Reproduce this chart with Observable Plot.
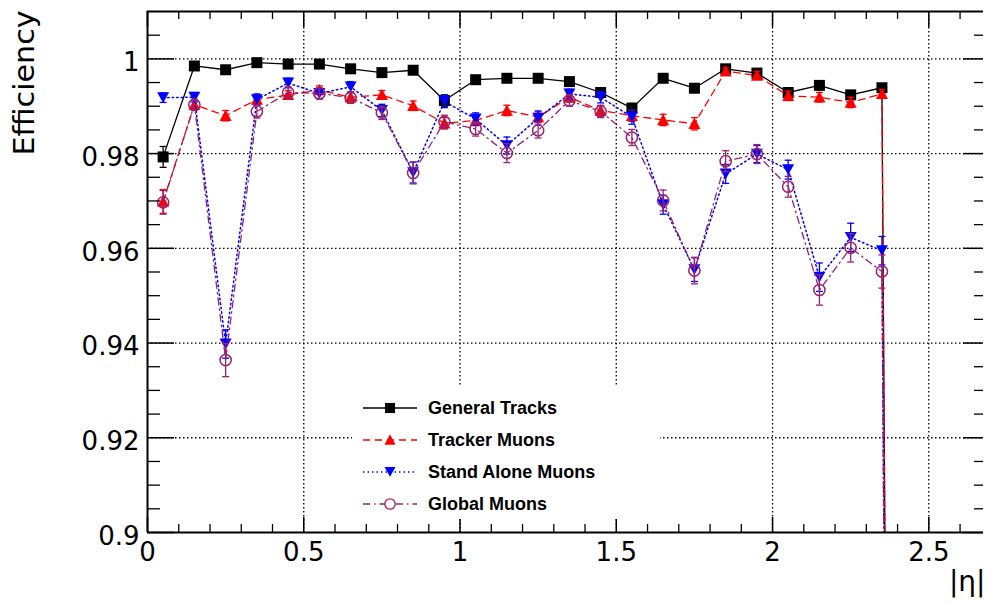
<!DOCTYPE html>
<html>
<head>
<meta charset="utf-8">
<script src="https://cdn.jsdelivr.net/npm/d3@7"></script>
<script src="https://cdn.jsdelivr.net/npm/@observablehq/plot@0.6"></script>
<style>
  html, body { margin: 0; padding: 0; background: #fff; overflow: hidden; }
  #wrap { position: relative; width: 986px; height: 603px; }
  #legend { position: absolute; left: 352px; top: 386px; width: 308px; height: 133px; background: #fff; }
  .row { position: absolute; left: 0; height: 20px; display: flex; align-items: center;
         font-family: "Liberation Sans", Arial, sans-serif; font-weight: bold; font-size: 18px; color: #000; }
  .row svg { position: absolute; left: 9px; top: 0; }
  .row span { position: absolute; left: 76px; top: 0; line-height: 20px; white-space: nowrap; }
</style>
</head>
<body>
<div id="wrap"></div>
<script>
// ---- data ----
const eta = [0.05, 0.15, 0.25, 0.35, 0.45, 0.55, 0.65, 0.75, 0.85, 0.95, 1.05, 1.15,
             1.25, 1.35, 1.45, 1.55, 1.65, 1.75, 1.85, 1.95, 2.05, 2.15, 2.25, 2.35, 2.45];

const generalTracks   = [0.9793, 0.9985, 0.9977, 0.9992, 0.9989, 0.9989, 0.9979, 0.9971, 0.9976, 0.9912, 0.9956, 0.9959,
                         0.9959, 0.9952, 0.9929, 0.9896, 0.9959, 0.9938, 0.9979, 0.9970, 0.9929, 0.9944, 0.9924, 0.9939, 0];
const generalTracksErr = [0.0022, 0.0005, 0.0005, 0.0004, 0.0004, 0.0004, 0.0005, 0.0005, 0.0005, 0.0012, 0.0006, 0.0006,
                         0.0006, 0.0006, 0.0008, 0.0010, 0.0006, 0.0008, 0.0005, 0.0006, 0.0008, 0.0008, 0.0009, 0.0008, 0];

const trackerMuons    = [0.9699, 0.9903, 0.9880, 0.9914, 0.9924, 0.9934, 0.9919, 0.9924, 0.9901, 0.9864, 0.9870, 0.9891,
                         0.9877, 0.9919, 0.9891, 0.9880, 0.9871, 0.9863, 0.9974, 0.9965, 0.9922, 0.9919, 0.9908, 0.9926, 0];
const trackerMuonsErr = [0.0025, 0.0010, 0.0011, 0.0010, 0.0009, 0.0009, 0.0009, 0.0009, 0.0010, 0.0012, 0.0011, 0.0011,
                         0.0011, 0.0010, 0.0010, 0.0012, 0.0012, 0.0013, 0.0007, 0.0008, 0.0010, 0.0010, 0.0011, 0.0009, 0];

const standAloneMuons = [0.9918, 0.9919, 0.9398, 0.9914, 0.9949, 0.9927, 0.9941, 0.9891, 0.9760, 0.9910, 0.9873, 0.9817,
                         0.9875, 0.9926, 0.9919, 0.9877, 0.9692, 0.9555, 0.9757, 0.9799, 0.9766, 0.9539, 0.9623, 0.9595, 0];
const standAloneMuonsErr = [0.0010, 0.0010, 0.0030, 0.0012, 0.0010, 0.0011, 0.0011, 0.0013, 0.0022, 0.0013, 0.0013, 0.0018,
                         0.0015, 0.0010, 0.0012, 0.0015, 0.0020, 0.0025, 0.0020, 0.0018, 0.0020, 0.0030, 0.0030, 0.0030, 0];

const globalMuons     = [0.9697, 0.9903, 0.9364, 0.9889, 0.9929, 0.9927, 0.9918, 0.9886, 0.9759, 0.9867, 0.9852, 0.9801,
                         0.9849, 0.9912, 0.9889, 0.9834, 0.9701, 0.9553, 0.9784, 0.9799, 0.9730, 0.9512, 0.9601, 0.9551, 0];
const globalMuonsErr  = [0.0025, 0.0012, 0.0035, 0.0014, 0.0012, 0.0012, 0.0012, 0.0014, 0.0023, 0.0014, 0.0015, 0.0020,
                         0.0016, 0.0012, 0.0013, 0.0017, 0.0022, 0.0028, 0.0022, 0.0020, 0.0022, 0.0032, 0.0030, 0.0035, 0];

const seriesNames = ["General Tracks", "Tracker Muons", "Stand Alone Muons", "Global Muons"];

const xMajorTicks = [0, 0.5, 1, 1.5, 2, 2.5];
const xTickLabels = ["0", "0.5", "1", "1.5", "2", "2.5"];
const yMajorTicks = [0.9, 0.92, 0.94, 0.96, 0.98, 1.0];
const yTickLabels = ["0.9", "0.92", "0.94", "0.96", "0.98", "1"];
const xDomain = [0, 2.675];
const yDomain = [0.9, 1.01];

// ---- derived ticks ----
const xMinorTicks = d3.range(1, 27).map(i => i / 10).filter(v => Math.abs(v * 2 - Math.round(v * 2)) > 1e-6);
const yMinorTicks = d3.range(181, 202).map(i => i / 200).filter(v => Math.abs(v * 50 - Math.round(v * 50)) > 1e-6);
const xGrid = xMajorTicks.slice(1);
const yGrid = yMajorTicks.slice(1);

// ---- symbols ----
const symSquare = {draw(c) { const s = 5.5; c.rect(-s, -s, 2 * s, 2 * s); }};
const symTriUp = {draw(c) { c.moveTo(0, -6.2); c.lineTo(6, 5.2); c.lineTo(-6, 5.2); c.closePath(); }};
const symTriDown = {draw(c) { c.moveTo(0, 5.2); c.lineTo(6, -5.4); c.lineTo(-6, -5.4); c.closePath(); }};
const symCircle = {draw(c) { c.moveTo(5.6, 0); c.arc(0, 0, 5.6, 0, 2 * Math.PI); }};
const symCap = {draw(c) { c.moveTo(-3.5, 0); c.lineTo(3.5, 0); }};

const styles = [
  {color: "#000000", dash: null, symbol: symSquare, fill: "#000000", lw: 1.3},
  {color: "#ff0000", dash: "7,5", symbol: symTriUp, fill: "#ff0000", lw: 1.3},
  {color: "#0000ff", dash: "1.5,3", symbol: symTriDown, fill: "#0000ff", lw: 1.5},
  {color: "#99226e", dash: "7,4,1.5,4", symbol: symCircle, fill: "none", lw: 1.3}
];

const valuesList = [generalTracks, trackerMuons, standAloneMuons, globalMuons];
const errList = [generalTracksErr, trackerMuonsErr, standAloneMuonsErr, globalMuonsErr];

const W = 986 - 147 - 3, H = 603 - 11 - 71;

const seriesMarks = [];
valuesList.forEach((vals, s) => {
  const st = styles[s];
  const rows = eta.map((x, i) => ({x, y: vals[i], e: errList[s][i]}));
  const withErr = rows.filter(d => d.e > 0);
  seriesMarks.push(
    Plot.line(rows, {x: "x", y: "y", stroke: st.color, strokeWidth: st.lw, strokeDasharray: st.dash, clip: true}),
    Plot.ruleX(withErr, {x: "x", y1: d => d.y - d.e, y2: d => d.y + d.e, stroke: st.color, strokeWidth: 1.3, clip: true}),
    Plot.dot(withErr, {x: "x", y: d => d.y + d.e, symbol: symCap, fill: "none", stroke: st.color, strokeWidth: 1.3, r: 3, clip: true}),
    Plot.dot(withErr, {x: "x", y: d => d.y - d.e, symbol: symCap, fill: "none", stroke: st.color, strokeWidth: 1.3, r: 3, clip: true}),
    Plot.dot(rows, {x: "x", y: "y", symbol: st.symbol, r: 5,
      fill: st.fill, stroke: st.fill === "none" ? st.color : "none", strokeWidth: 1.5, clip: true})
  );
});

const labelOf = (ticks, labels) => d => labels[ticks.findIndex(t => Math.abs(t - d) < 1e-9)];

const chart = Plot.plot({
  width: 986, height: 603,
  marginLeft: 147, marginRight: 3, marginTop: 11, marginBottom: 71,
  style: {fontFamily: "DejaVu Sans, sans-serif", background: "#fff", color: "#000"},
  x: {domain: xDomain, label: null},
  y: {domain: yDomain, label: null},
  marks: [
    // grid
    Plot.ruleX(xGrid, {x: d => d, stroke: "#000", strokeWidth: 1.3, strokeDasharray: "1.5,2.5"}),
    Plot.ruleY(yGrid, {y: d => d, stroke: "#000", strokeWidth: 1.3, strokeDasharray: "1.5,2.5"}),
    // data
    ...seriesMarks,
    // ticks (inside frame)
    Plot.tickX(xMajorTicks, {x: d => d, insetTop: H - 15, stroke: "#000", strokeWidth: 1.5}),
    Plot.tickX(xMinorTicks, {x: d => d, insetTop: H - 8, stroke: "#000", strokeWidth: 1.3}),
    Plot.tickX(xMajorTicks, {x: d => d, insetBottom: H - 16, stroke: "#000", strokeWidth: 1.5}),
    Plot.tickX(xMinorTicks, {x: d => d, insetBottom: H - 8, stroke: "#000", strokeWidth: 1.3}),
    Plot.tickY(yMajorTicks, {y: d => d, insetRight: W - 27, stroke: "#000", strokeWidth: 1.5}),
    Plot.tickY(yMinorTicks, {y: d => d, insetRight: W - 13, stroke: "#000", strokeWidth: 1.3}),
    Plot.tickY(yMajorTicks, {y: d => d, insetLeft: W - 20, stroke: "#000", strokeWidth: 1.5}),
    Plot.tickY(yMinorTicks, {y: d => d, insetLeft: W - 9, stroke: "#000", strokeWidth: 1.3}),
    // frame (left, bottom, top)
    Plot.ruleX([xDomain[0]], {x: d => d, stroke: "#000", strokeWidth: 2}),
    Plot.ruleY(yDomain, {y: d => d, stroke: "#000", strokeWidth: 2}),
    // axes labels
    Plot.axisX({ticks: xMajorTicks, tickFormat: labelOf(xMajorTicks, xTickLabels), tickSize: 0, tickPadding: 10, fontSize: 26, label: null}),
    Plot.axisY({ticks: yMajorTicks, tickFormat: labelOf(yMajorTicks, yTickLabels), tickSize: 0, tickPadding: 8, dy: 4, fontSize: 26, label: null}),
    Plot.text(["Efficiency"], {text: d => d, frameAnchor: "top-left", rotate: -90, textAnchor: "end", lineAnchor: "bottom",
      dx: -114, dy: -1, fontSize: 28, fill: "#000"}),
    Plot.text(["|η|"], {text: d => d, frameAnchor: "bottom-right", textAnchor: "end", lineAnchor: "bottom",
      dx: 2, dy: 58, fontSize: 28, fill: "#000"})
  ]
});

d3.select(chart).selectAll("text")
  .filter(function() { return this.textContent === "Efficiency"; })
  .attr("textLength", 145).attr("lengthAdjust", "spacingAndGlyphs");

const wrap = document.getElementById("wrap");
wrap.appendChild(chart);

// ---- legend (in-frame box) ----
const legend = document.createElement("div");
legend.id = "legend";
const rowTops = [12, 44, 76, 108];
seriesNames.forEach((name, s) => {
  const st = styles[s];
  const row = document.createElement("div");
  row.className = "row";
  row.style.top = rowTops[s] + "px";
  const p = d3.path();
  st.symbol.draw(p);
  const svg = d3.create("svg").attr("width", 58).attr("height", 20);
  svg.append("line").attr("x1", 2).attr("x2", 56).attr("y1", 10).attr("y2", 10)
    .attr("stroke", st.color).attr("stroke-width", st.lw).attr("stroke-dasharray", st.dash);
  svg.append("path").attr("d", p.toString()).attr("transform", "translate(29,10) scale(0.92)")
    .attr("fill", st.fill === "none" ? "#fff" : st.fill)
    .attr("stroke", st.fill === "none" ? st.color : "none").attr("stroke-width", 1.5);
  row.appendChild(svg.node());
  const span = document.createElement("span");
  span.textContent = name;
  row.appendChild(span);
  legend.appendChild(row);
});
wrap.appendChild(legend);
</script>
</body>
</html>
